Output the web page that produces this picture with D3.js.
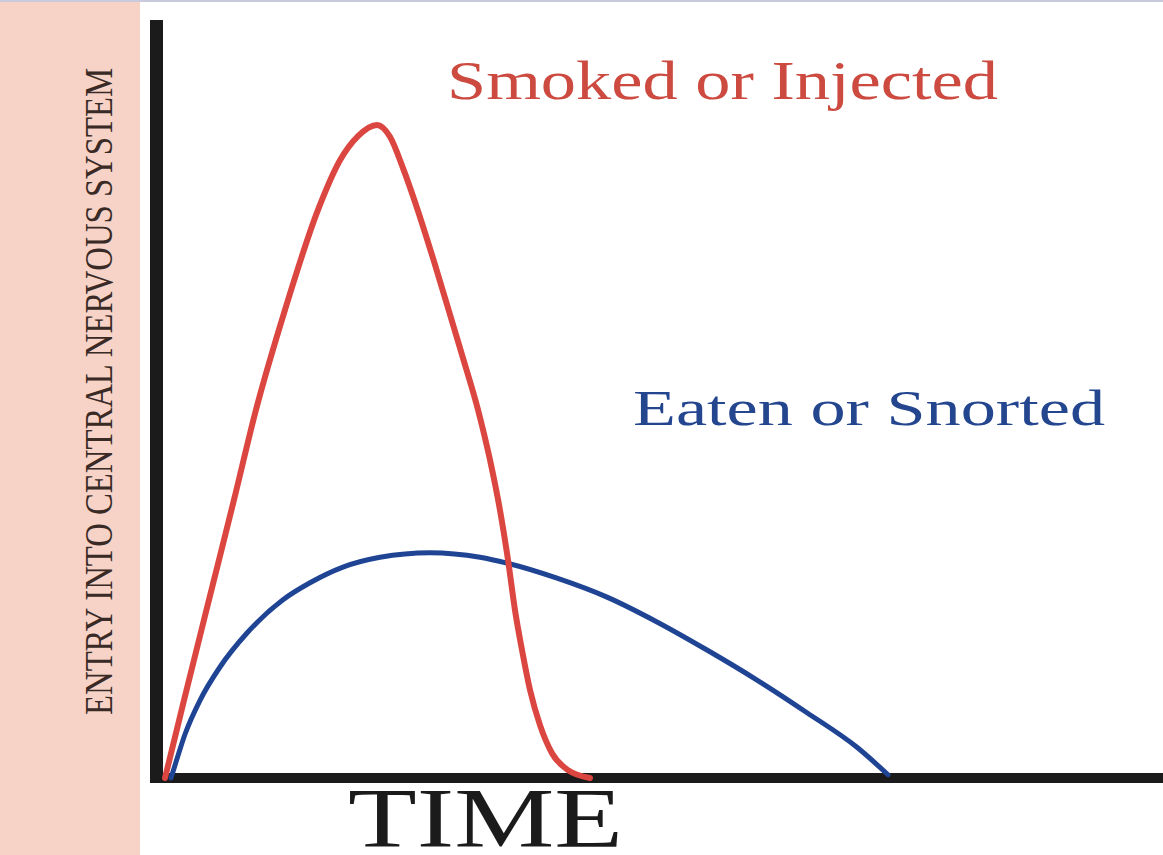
<!DOCTYPE html>
<html>
<head>
<meta charset="utf-8">
<script src="https://cdn.jsdelivr.net/npm/d3@7"></script>
<style>
  html, body { margin: 0; padding: 0; background: #ffffff; }
  svg { display: block; }
</style>
</head>
<body>
<svg id="chart" width="1163" height="855"></svg>
<script>
// ---- data (time units 0..100, level units 0..100 with red peak = 100) ----
const seriesNames = ["Smoked or Injected", "Eaten or Snorted"];
const smokedTime  = [0, 1.9, 4.4, 6.9, 9.1, 12.0, 15.3, 17.5, 19.3, 21.2, 22.5, 23.8, 25.2, 26.8, 28.3, 29.8, 31.3, 32.5, 33.5, 34.3, 35.0, 35.7, 36.5, 37.5, 38.7, 40.3, 42.5];
const smokedLevel = [0, 11.9, 27.3, 42.6, 56.4, 71.7, 87.0, 94.6, 98.3, 100, 98.2, 93.4, 87.3, 79.6, 72.0, 64.3, 56.4, 48.7, 41.0, 33.4, 25.7, 19.6, 13.5, 8.1, 3.8, 1.2, 0];
const eatenTime   = [0.6, 1.1, 2.0, 3.5, 5.5, 8.2, 11.8, 14.5, 17.8, 21.5, 26.5, 31.5, 34.2, 39.2, 44.2, 49.2, 54.2, 59.2, 64.2, 69.2, 72.3];
const eatenLevel  = [0, 2.45, 6.7, 11.9, 17.0, 22.2, 27.3, 29.9, 32.3, 33.8, 34.5, 33.8, 32.9, 30.6, 27.7, 23.9, 19.6, 15.0, 10.0, 4.7, 0.5];
const xTitle = "TIME";
const yTitle = "ENTRY INTO CENTRAL NERVOUS SYSTEM";

const svg = d3.select("#chart");
const W = 1163, H = 855;

const x = d3.scaleLinear().domain([0, 100]).range([165, 1165]);
const y = d3.scaleLinear().domain([0, 100]).range([778, 125]);

// background pieces
svg.append("rect").attr("x", 0).attr("y", 0).attr("width", W).attr("height", H).attr("fill", "#ffffff");
svg.append("rect").attr("x", 0).attr("y", 2).attr("width", 140).attr("height", H - 2).attr("fill", "#f6d3c6");
svg.append("rect").attr("x", 0).attr("y", 0).attr("width", W).attr("height", 2).attr("fill", "#c9cbdc");

// axes (thick black bars)
const axisColor = "#1b1b1b";
svg.append("line")
  .attr("x1", 156.5).attr("x2", 156.5)
  .attr("y1", 20).attr("y2", y(0) + 5)
  .attr("stroke", axisColor).attr("stroke-width", 13);
svg.append("line")
  .attr("x1", 150).attr("x2", W)
  .attr("y1", y(0)).attr("y2", y(0))
  .attr("stroke", axisColor).attr("stroke-width", 10);

// curves
const line = d3.line()
  .x(d => x(d[0]))
  .y(d => y(d[1]))
  .curve(d3.curveMonotoneX);

const smoked = smokedTime.map((t, i) => [t, smokedLevel[i]]);
const eaten  = eatenTime.map((t, i) => [t, eatenLevel[i]]);

svg.append("path").datum(eaten)
  .attr("d", line).attr("fill", "none")
  .attr("stroke", "#1f4494").attr("stroke-width", 5)
  .attr("stroke-linecap", "round").attr("stroke-linejoin", "round");
svg.append("path").datum(smoked)
  .attr("d", line).attr("fill", "none")
  .attr("stroke", "#db4640").attr("stroke-width", 6)
  .attr("stroke-linecap", "round").attr("stroke-linejoin", "round");

// labels
const serif = "'Liberation Serif', 'Times New Roman', serif";
svg.append("text")
  .attr("x", 447).attr("y", 99)
  .attr("font-family", serif).attr("font-size", 55)
  .attr("fill", "#cc4a40")
  .attr("textLength", 551).attr("lengthAdjust", "spacingAndGlyphs")
  .text(seriesNames[0]);

svg.append("text")
  .attr("x", 633).attr("y", 425)
  .attr("font-family", serif).attr("font-size", 50)
  .attr("fill", "#24468f")
  .attr("textLength", 472).attr("lengthAdjust", "spacingAndGlyphs")
  .text(seriesNames[1]);

svg.append("text")
  .attr("x", 348).attr("y", 847)
  .attr("font-family", serif).attr("font-size", 85)
  .attr("fill", "#1b1b1b")
  .attr("textLength", 275).attr("lengthAdjust", "spacingAndGlyphs")
  .text(xTitle);

svg.append("text")
  .attr("transform", "translate(98.5,391.5) scale(1.28,1) rotate(-90)")
  .attr("text-anchor", "middle").attr("dominant-baseline", "central")
  .attr("font-family", serif).attr("font-size", 32)
  .attr("fill", "#3a2a26")
  .attr("textLength", 647).attr("lengthAdjust", "spacingAndGlyphs")
  .text(yTitle);
</script>
</body>
</html>
